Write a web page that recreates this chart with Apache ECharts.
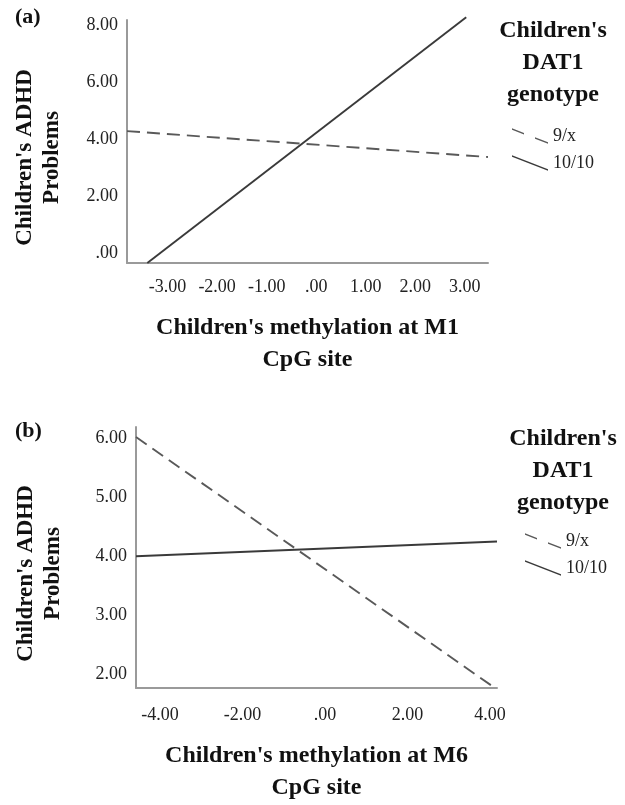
<!DOCTYPE html>
<html>
<head>
<meta charset="utf-8">
<script src="https://cdn.jsdelivr.net/npm/echarts@6/dist/echarts.min.js"></script>
<style>
html,body{margin:0;padding:0;background:#fff;}
#chart{width:625px;height:805px;}
</style>
</head>
<body>
<div id="chart"></div>
<script>
// ---- Data ----
const seriesNames = ["9/x", "10/10"];

// Panel (a): methylation at M1
const aDashedX = [-3.82, 3.47];
const aDashedY = [4.28, 3.37];
const aSolidX = [-3.41, 3.03];
const aSolidY = [-0.35, 8.28];
const aXTicks = [-3, -2, -1, 0, 1, 2, 3];
const aYTicks = [0, 2, 4, 6, 8];

// Panel (b): methylation at M6
const bDashedX = [-4.58, 4.12];
const bDashedY = [6.02, 1.77];
const bSolidX = [-4.58, 4.17];
const bSolidY = [4.00, 4.25];
const bXTicks = [-4, -2, 0, 2, 4];
const bYTicks = [2, 3, 4, 5, 6];

const xTitleA = "Children's methylation at M1\nCpG site";
const xTitleB = "Children's methylation at M6\nCpG site";
const yTitle = "Children's ADHD\nProblems";
const legendTitle = "Children's\nDAT1\ngenotype";

// ---- Helpers ----
const SERIF = "'Liberation Serif', 'Times New Roman', serif";
function fmt(v) {
  if (Math.abs(v) < 1e-9) return ".00";
  return v.toFixed(2);
}
function zip(xs, ys) { return xs.map((x, i) => [x, ys[i]]); }

function axisLineStyle() {
  return { show: true, onZero: false, lineStyle: { color: '#9a9a9a', width: 2 } };
}
function makeX(gridIndex, min, max, ticks, name, gap, margin) {
  return {
    type: 'value', gridIndex, min, max,
    axisLine: axisLineStyle(), axisTick: { show: false }, splitLine: { show: false },
    axisLabel: { customValues: ticks, formatter: fmt, color: '#222', fontFamily: SERIF, fontSize: 18, margin },
    name, nameLocation: 'middle', nameGap: gap,
    nameTextStyle: { fontFamily: SERIF, fontWeight: 'bold', fontSize: 24, color: '#111', lineHeight: 32 }
  };
}
function makeY(gridIndex, min, max, ticks, gap) {
  return {
    type: 'value', gridIndex, min, max,
    axisLine: axisLineStyle(), axisTick: { show: false }, splitLine: { show: false },
    axisLabel: { customValues: ticks, formatter: fmt, color: '#222', fontFamily: SERIF, fontSize: 18, margin: 9 },
    name: yTitle, nameLocation: 'middle', nameGap: gap, nameRotate: 90,
    nameTextStyle: { fontFamily: SERIF, fontWeight: 'bold', fontSize: 23, color: '#111', lineHeight: 27, padding: [0, 32, 0, 0] }
  };
}
const dashedIcon = 'path://M0,0 L12,4.7 L12,6.3 L0,1.6 Z M23,9 L36,14 L36,15.6 L23,10.6 Z';
const solidIcon = 'path://M0,0 L36,14 L36,15.6 L0,1.6 Z';
function makeLegend(left, top) {
  return {
    orient: 'vertical', left, top, itemWidth: 36, itemHeight: 16, itemGap: 9,
    selectedMode: false,
    itemStyle: { borderWidth: 0 },
    textStyle: { fontFamily: SERIF, fontSize: 18, color: '#222' },
    data: [
      { name: seriesNames[0], icon: dashedIcon },
      { name: seriesNames[1], icon: solidIcon }
    ]
  };
}
function line(name, idx, data, dashed, color) {
  return {
    type: 'line', name, xAxisIndex: idx, yAxisIndex: idx, data,
    symbol: 'none', clip: false, silent: true, animation: false,
    color,
    lineStyle: { color, width: 1.9, type: dashed ? [13, 7] : 'solid' }
  };
}

const chart = echarts.init(document.getElementById('chart'), null, { renderer: 'canvas' });
chart.setOption({
  backgroundColor: '#fff',
  animation: false,
  grid: [
    { left: 127, top: 20, width: 361, height: 243 },
    { left: 136, top: 427, width: 361, height: 265 }
  ],
  xAxis: [
    makeX(0, -3.82, 3.47, aXTicks, xTitleA, 49, 15),
    makeX(1, -4.58, 4.17, bXTicks, xTitleB, 52, 18)
  ],
  yAxis: [
    makeY(0, -0.35, 8.18, aYTicks, 61),
    makeY(1, 1.77, 6.19, bYTicks, 69)
  ],
  legend: [makeLegend(507, 122), makeLegend(520, 527)],
  series: [
    line(seriesNames[0], 0, zip(aDashedX, aDashedY), true, '#595959'),
    line(seriesNames[1], 0, zip(aSolidX, aSolidY), false, '#3a3a3a'),
    line(seriesNames[0], 1, zip(bDashedX, bDashedY), true, '#595959'),
    line(seriesNames[1], 1, zip(bSolidX, bSolidY), false, '#3a3a3a')
  ],
  graphic: [
    { type: 'text', left: 15, top: 6, style: { text: '(a)', font: "bold 22px " + SERIF, fill: '#111' } },
    { type: 'text', left: 15, top: 420, style: { text: '(b)', font: "bold 22px " + SERIF, fill: '#111' } },
    { type: 'text', x: 553, y: 15, style: { text: legendTitle, font: "bold 24px " + SERIF, fill: '#111', align: 'center', verticalAlign: 'top', lineHeight: 32 } },
    { type: 'text', x: 563, y: 423, style: { text: legendTitle, font: "bold 24px " + SERIF, fill: '#111', align: 'center', verticalAlign: 'top', lineHeight: 32 } }
  ]
});
</script>
</body>
</html>
